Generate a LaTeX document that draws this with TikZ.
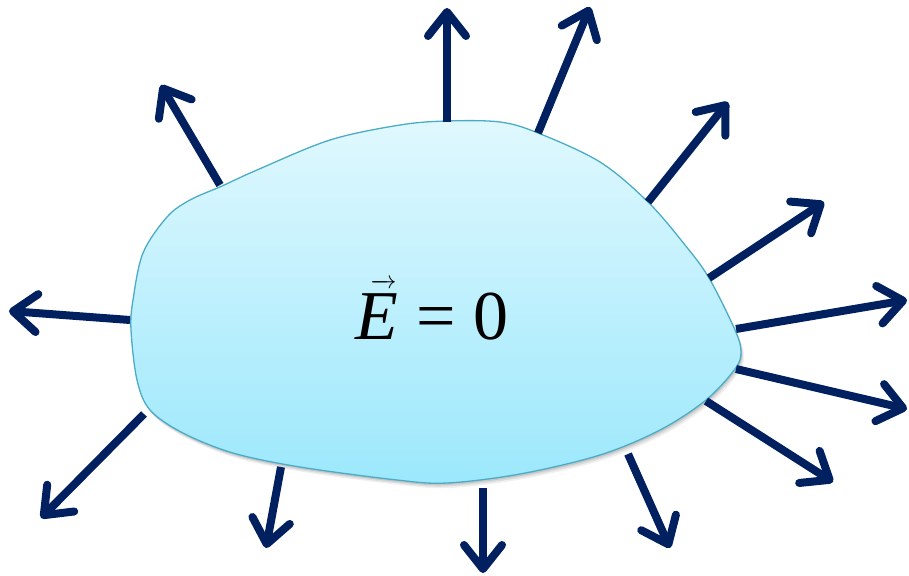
\documentclass[tikz,border=0pt]{standalone}
\usepackage{fontspec}
\setmainfont{Liberation Serif}
\usetikzlibrary{arrows.meta}
\definecolor{arrowblue}{RGB}{0,32,96}
\definecolor{blobtop}{RGB}{224,248,254}
\definecolor{blobbot}{RGB}{156,232,252}
\definecolor{blobedge}{RGB}{75,172,198}
\tikzset{
  field/.style={draw=arrowblue, line width=8pt, line cap=butt,
    -{Straight Barb[length=24pt, width=38pt, round]}},
  blobline/.style={draw=blobedge, line width=1.3pt}
}
\newcommand{\blobpath}{plot[smooth cycle, tension=0.55] coordinates {
 (131,330) (133,300) (143,253) (167,217) (190,200) (222,186) (257,170)
 (330,140) (400,125) (447,121) (500,122) (538,133) (600,162) (648,202)
 (685,245) (709,278) (735,330) (741,352) (735,369) (706,400) (660,430)
 (600,455) (520,474) (447,483) (397,480) (300,467) (233,453) (183,433)
 (150,410) (137,380)}}
\newcommand{\vecE}{\makebox[0pt][l]{\hspace{0.2em}\raisebox{0.74em}{$\overrightarrow{\hbox to 0.38em{}}$}}\textit{E}}
\begin{document}
\begin{tikzpicture}[x=1pt, y=-1pt]
\useasboundingbox (0,0) rectangle (909,575);
% shadow
\begin{scope}[shift={(3,5)}]
  \fill[black, opacity=0.06] \blobpath;
\end{scope}
\begin{scope}[shift={(2,3.5)}]
  \fill[black, opacity=0.08] \blobpath;
\end{scope}
\begin{scope}[shift={(1,2)}]
  \fill[black, opacity=0.1] \blobpath;
\end{scope}
\shade[top color=blobtop, bottom color=blobbot] \blobpath;
\draw[blobline] \blobpath;
% text
\node[inner sep=0pt] (eq) at (432,310) {\fontsize{70}{70}\selectfont \vecE{} = 0};
% start points on the boundary
\coordinate (s1) at (447,122);  \coordinate (t1) at (447,8);
\coordinate (s2) at (538,133);  \coordinate (t2) at (590,7);
\coordinate (s3) at (648,202);  \coordinate (t3) at (728,102);
\coordinate (s4) at (709,278);  \coordinate (t4) at (824,202);
\coordinate (s5) at (736,329);  \coordinate (t5) at (907,300);
\coordinate (s6) at (736,369);  \coordinate (t6) at (907,409);
\coordinate (s7) at (706,401);  \coordinate (t7) at (833,482);
\coordinate (s8) at (628,454);  \coordinate (t8) at (670,548);
\coordinate (s9) at (483,488);  \coordinate (t9) at (483,573);
\coordinate (s10) at (281,467); \coordinate (t10) at (266,548);
\coordinate (s11) at (144,414); \coordinate (t11) at (41,518);
\coordinate (s12) at (130,320); \coordinate (t12) at (9,311);
\coordinate (s13) at (220,185); \coordinate (t13) at (161,85);
\foreach \i in {1,...,13} {
  \draw[field] (s\i) -- (t\i);
}
\end{tikzpicture}
\end{document}
